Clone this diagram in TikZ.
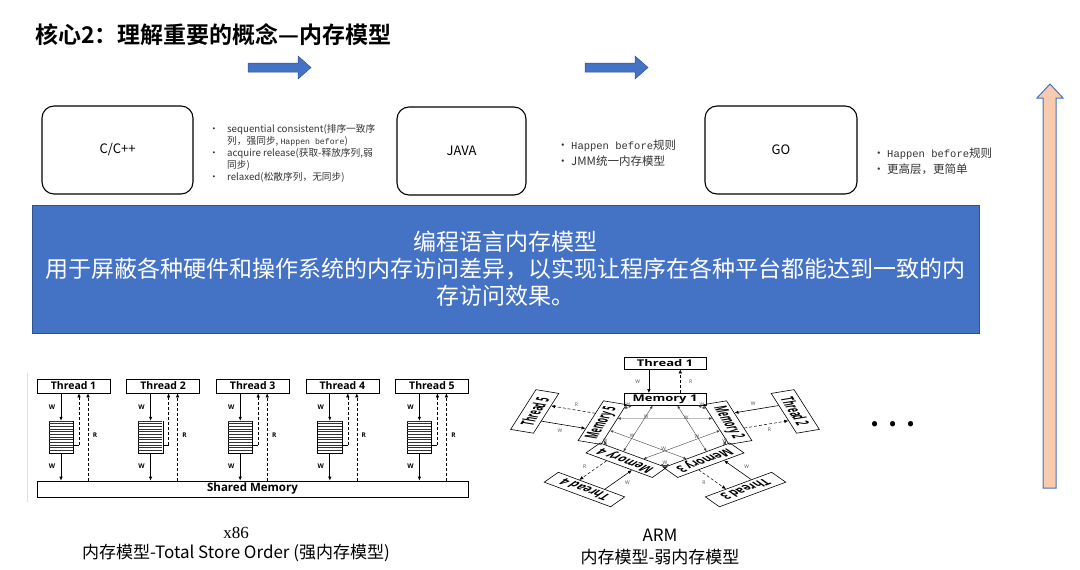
\documentclass[tikz,border=0pt]{standalone}
\usepackage{fontspec}
\setmainfont{Noto Sans CJK SC}[BoldFont={Noto Sans CJK SC Bold}]
\newfontfamily\monofont{Liberation Mono}
\newfontfamily\serifcap{Liberation Serif}
\newfontfamily\figfont{Open Sans}
\usepackage{graphicx}
\usepackage{tikz}
\usetikzlibrary{calc, arrows.meta, positioning}
\usepackage{xcolor}
\definecolor{slideblue}{HTML}{4472C4}
\definecolor{slideedge}{HTML}{2F528F}
\definecolor{peach}{HTML}{F8CBAD}

\newcommand{\armtext}[1]{\scalebox{1}[1.4]{#1}}
\newcommand{\bul}{\makebox[14pt][l]{•}}

\begin{document}
\begin{tikzpicture}[x=1pt, y=-1pt,
    langbox/.style={draw, line width=1.1pt, rounded corners=12pt, minimum height=88pt, font=\fontsize{13}{15}\selectfont},
    notes/.style={align=left, inner sep=0pt, text=black!80},
    thrd/.style={draw, line width=0.6pt, minimum width=73pt, minimum height=14pt, inner sep=0pt, font=\figfont\bfseries\fontsize{10.5}{10.5}\selectfont},
    queue/.style={minimum width=24pt, minimum height=32pt, inner sep=0pt},
    wline/.style={line width=0.7pt, -{Latex[length=4pt, width=3.5pt]}},
    rline/.style={line width=0.6pt, densely dashed, -{Latex[length=4pt, width=3.5pt]}},
    lbl/.style={inner sep=0pt, font=\figfont\bfseries\fontsize{6.5}{6.5}\selectfont},
    armbox/.style={draw, line width=0.6pt, transform shape, minimum width=82pt, minimum height=24pt, inner sep=0pt, font=\figfont\bfseries\fontsize{13}{13}\selectfont},
    armlink/.style={line width=0.4pt, black!75, {Latex[length=3pt, width=2.5pt]}-{Latex[length=3pt, width=2.5pt]}},
    armlbl/.style={inner sep=0pt, font=\figfont\fontsize{5}{5}\selectfont, text=black!70},
    caption/.style={inner sep=0pt, font=\fontsize{17}{17}\selectfont}
  ]
  \useasboundingbox (0,0) rectangle (1080,570);

  % title
  \node[anchor=west, inner sep=0pt, font=\bfseries\fontsize{23}{23}\selectfont] (title) at (35,35) {核心2：理解重要的概念—内存模型};

  % arrows C/C++ -> JAVA -> GO
  \foreach \ax in {248,585}
    \draw[fill=slideblue, draw=slideedge, line width=0.5pt] (\ax,63) -- (\ax+50,63) -- (\ax+50,56) -- (\ax+63,67.5) -- (\ax+50,79) -- (\ax+50,72) -- (\ax,72) -- cycle;

  % higher level arrow
  \draw[fill=peach, draw=slideblue, line width=1pt] (1043,488) -- (1043,98) -- (1037,98) -- (1050,84) -- (1063,98) -- (1056,98) -- (1056,488) -- cycle;

  % languages
  \node[langbox, minimum width=151pt] (cpp) at (117.5,150) {C/C++};
  \node[langbox, minimum width=129pt] (java) at (461.5,151) {JAVA};
  \node[langbox, minimum width=152pt] (go) at (781,150) {GO};

  \node[notes, anchor=north west, font=\fontsize{9.7}{12}\selectfont] (cppnotes) at (209,124)
    {\makebox[18pt][l]{•}sequential consistent(排序一致序\\
     \hspace*{18pt}列，强同步, {\monofont\fontsize{8.2}{12}\selectfont Happen before})\\
     \makebox[18pt][l]{•}acquire release(获取-释放序列,弱\\
     \hspace*{18pt}同步)\\
     \makebox[18pt][l]{•}relaxed(松散序列，无同步)};
  \node[notes, anchor=west, font=\fontsize{11.5}{16}\selectfont] (javanotes) at (557,153)
    {\bul{\monofont\fontsize{10.5}{16}\selectfont Happen before}规则\\
     \bul JMM统一内存模型};
  \node[notes, anchor=west, font=\fontsize{11.5}{16}\selectfont] (gonotes) at (873,161)
    {\bul{\monofont\fontsize{10.5}{16}\selectfont Happen before}规则\\
     \bul 更高层，更简单};

  % language memory model
  \node[draw=slideedge, fill=slideblue, line width=1pt, minimum width=947pt, minimum height=128pt,
        text=white, align=center, font=\fontsize{23}{27}\selectfont] (lmm) at (505.5,269)
    {编程语言内存模型\\用于屏蔽各种硬件和操作系统的内存访问差异，以实现让程序在各种平台都能达到一致的内\\存访问效果。};

  % x86: total store order
  \draw[black!12, line width=0.6pt] (27,373) -- (27,502);
  \node[thrd, minimum width=431pt, minimum height=16pt, font=\figfont\bfseries\fontsize{11.5}{11.5}\selectfont] (shm) at (252.5,489) {Shared Memory};
  \foreach \i in {1,...,5}{
    \pgfmathsetmacro\cx{73.5+89.6*(\i-1)}
    \node[thrd] (th\i) at (\cx,386) {Thread \i};
    \node[queue] (q\i) at (\cx-12.5,437) {};
    \coordinate (h\i) at (\cx+5.5,445);
    \coordinate (r\i) at (\cx+14.5,440);
    % store buffer
    \draw[line width=0.5pt] (q\i.north west) -- (q\i.south west) -- (q\i.south east) -- (q\i.north east);
    \foreach \k in {0,...,11}
      \draw[line width=0.3pt, black!80] ($(q\i.north west)+(0,\k*2.67)$) -- ++(24,0);
    \draw[wline] (th\i.south -| q\i.center) -- (q\i.north);
    \draw[wline] (q\i.south) -- (q\i.south |- shm.north);
    \draw[line width=0.5pt] (q\i.east |- h\i) -- (h\i);
    \draw[rline] (h\i) -- (h\i |- th\i.south);
    \draw[rline] (r\i |- shm.north) -- (r\i |- th\i.south);
    \node[lbl] (xw\i) at (\cx-21.5,407) {W};
    \node[lbl] (xv\i) at (\cx-21.5,466) {W};
    \node[lbl] (xr\i) at (\cx+21.5,435) {R};
  }
  \node[caption, font=\serifcap\fontsize{17}{17}\selectfont] (x86cap) at (236,533) {x86};
  \node[caption] (tsocap) at (236,553) {内存模型-Total Store Order (强内存模型)};

  % ARM: weak memory model
  \begin{scope}[shift={(665,433)}, x=1pt, y=1pt, yscale=0.51]
    \foreach \i in {1,...,5}{
      \pgfmathsetmacro\ang{90-72*(\i-1)}
      \pgfmathsetmacro\rot{-72*(\i-1)}
      \node[armbox, rotate=\rot] (m\i) at (\ang:66) {\armtext{Memory \i}};
      \node[armbox, rotate=\rot] (t\i) at (\ang:137) {\armtext{Thread \i}};
    }
    \foreach \i in {1,...,5}{
      \pgfmathtruncatemacro\j{mod(\i,5)+1}
      \pgfmathtruncatemacro\k{mod(\i+1,5)+1}
      \draw[wline, line width=0.6pt] ($(t\i.south)!0.39!(t\i.south west)$) -- ($(m\i.north)!0.39!(m\i.north west)$);
      \draw[rline, line width=0.5pt] ($(m\i.north)!0.37!(m\i.north east)$) -- ($(t\i.south)!0.37!(t\i.south east)$);
      \path ($(t\i.south)!0.66!(t\i.south west)$) -- ($(m\i.north)!0.66!(m\i.north west)$) node[midway, armlbl] (aw\i) {W};
      \path ($(t\i.south)!0.62!(t\i.south east)$) -- ($(m\i.north)!0.62!(m\i.north east)$) node[midway, armlbl] (ar\i) {R};
      \draw[armlink] ($(m\i.south)!0.8!(m\i.south east)$) -- ($(m\j.south)!0.8!(m\j.south west)$) node[midway, armlbl, above] (la\i) {W};
      \draw[armlink] ($(m\i.south)!0.3!(m\i.south east)$) -- ($(m\k.south)!0.3!(m\k.south west)$) node[pos=0.3, armlbl, above] (ld\i) {W};
    }
  \end{scope}
  \node[caption] (armcap) at (660,535) {ARM};
  \node[caption] (weakcap) at (660,557) {内存模型-弱内存模型};

  \node[inner sep=0pt, font=\bfseries\fontsize{28}{28}\selectfont] (more) at (893,424) {.\hspace{9pt}.\hspace{9pt}.};
\end{tikzpicture}
\end{document}
